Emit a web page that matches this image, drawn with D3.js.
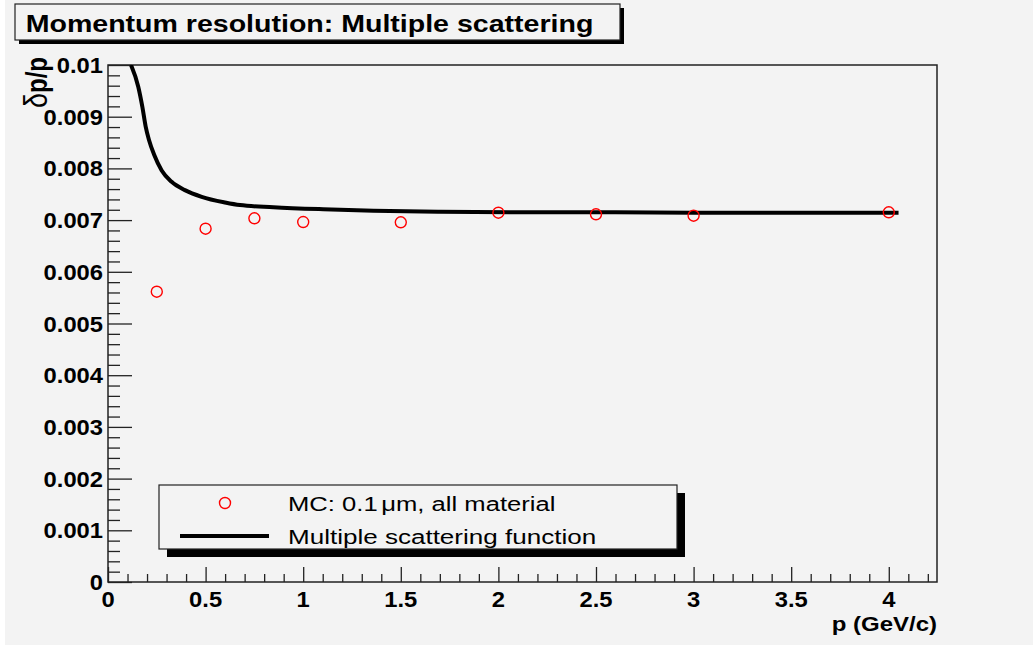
<!DOCTYPE html>
<html>
<head>
<meta charset="utf-8">
<script src="https://cdn.jsdelivr.net/npm/d3@7"></script>
<style>
  html, body { margin: 0; padding: 0; background: #f3f3f3; }
  svg { display: block; }
  text { font-family: "Liberation Sans", Arial, Helvetica, sans-serif; }
</style>
</head>
<body>
<svg id="chart" width="1033" height="645"></svg>
<script>
// ---- data ----
const mcP = [0.25, 0.5, 0.75, 1.0, 1.5, 2.0, 2.5, 3.0, 4.0];
const mcRes = [0.005615, 0.006834, 0.007035, 0.006963, 0.006957, 0.007143, 0.007112, 0.007085, 0.007151];

const fnP = [0.118, 0.155, 0.176, 0.193, 0.210, 0.237, 0.275, 0.326, 0.394, 0.48, 0.60, 0.676, 0.847, 1.103, 1.36, 1.70, 2.11, 2.6, 3.0, 3.5, 4.05];
const fnRes = [0.0100, 0.00958, 0.00919, 0.00881, 0.00855, 0.00826, 0.00796, 0.00774, 0.00758, 0.00745, 0.00734, 0.00729, 0.00725, 0.00721, 0.00718, 0.00716, 0.00715, 0.00715, 0.00714, 0.00714, 0.00714];

const xMajorTicks = [0, 0.5, 1, 1.5, 2, 2.5, 3, 3.5, 4];
const xTickLabels = ["0", "0.5", "1", "1.5", "2", "2.5", "3", "3.5", "4"];
const yMajorTicks = [0, 0.001, 0.002, 0.003, 0.004, 0.005, 0.006, 0.007, 0.008, 0.009, 0.01];
const yTickLabels = ["0", "0.001", "0.002", "0.003", "0.004", "0.005", "0.006", "0.007", "0.008", "0.009", "0.01"];

const titleText = "Momentum resolution: Multiple scattering";
const xTitle = "p (GeV/c)";
const yTitleGreek = "\u03B4";
const yTitleRest = "p/p";
const legendMCParts = ["MC: 0.1", "\u03BCm, all material"];
const legendFn = "Multiple scattering function";

// ---- layout ----
const frame = { left: 108, right: 937, top: 65, bottom: 582 };
const xDomain = [0, 4.247];
const yDomain = [0, 0.01];

const svg = d3.select("#chart");
svg.append("rect").attr("width", 1033).attr("height", 645).attr("fill", "#f3f3f3");
svg.append("rect").attr("width", 5).attr("height", 645).attr("fill", "#ffffff");

const x = d3.scaleLinear().domain(xDomain).range([frame.left, frame.right]);
const y = d3.scaleLinear().domain(yDomain).range([frame.bottom, frame.top]);

function stretchedText(g, str, px, py, size, sx, anchor, weight, rotate) {
  return g.append("text")
    .attr("transform", `translate(${px},${py}) scale(${sx},1)` + (rotate ? ` rotate(${rotate})` : ""))
    .attr("text-anchor", anchor)
    .attr("font-size", size)
    .attr("font-weight", weight)
    .attr("fill", "#000")
    .text(str);
}

// ---- title box ----
const tb = { x0: 15, y0: 4, x1: 620, y1: 40 };
svg.append("rect").attr("x", tb.x0 + 4).attr("y", tb.y0 + 4)
  .attr("width", tb.x1 - tb.x0).attr("height", tb.y1 - tb.y0).attr("fill", "#000");
svg.append("rect").attr("x", tb.x0).attr("y", tb.y0)
  .attr("width", tb.x1 - tb.x0).attr("height", tb.y1 - tb.y0)
  .attr("fill", "#f3f3f3").attr("stroke", "#222").attr("stroke-width", 1.2);
stretchedText(svg, titleText, (tb.x0 + tb.x1) / 2 - 8, 32, 24, 1.19, "middle", "bold");

// ---- frame ----
svg.append("rect").attr("x", frame.left).attr("y", frame.top)
  .attr("width", frame.right - frame.left).attr("height", frame.bottom - frame.top)
  .attr("fill", "none").attr("stroke", "#222").attr("stroke-width", 1.5);

// ---- axes ----
const xAxisMajor = d3.axisTop(x).tickValues(xMajorTicks).tickSize(15).tickFormat("");
const xMinorVals = d3.range(0, 43).map(i => i / 10).filter(v => v <= xDomain[1] && Math.abs(v * 2 - Math.round(v * 2)) > 1e-6);
const xAxisMinor = d3.axisTop(x).tickValues(xMinorVals).tickSize(8).tickFormat("");
const gx1 = svg.append("g").attr("transform", `translate(0,${frame.bottom})`).call(xAxisMajor);
const gx2 = svg.append("g").attr("transform", `translate(0,${frame.bottom})`).call(xAxisMinor);
[gx1, gx2].forEach(g => { g.select(".domain").remove(); g.selectAll("line").attr("stroke", "#222").attr("stroke-width", 1.3); });

const yAxisMajor = d3.axisRight(y).tickValues(yMajorTicks).tickSize(24).tickFormat("");
const yMinorVals = d3.range(0, 51).map(i => i * 0.0002).filter(v => Math.abs(v / 0.001 - Math.round(v / 0.001)) > 1e-6);
const yAxisMinor = d3.axisRight(y).tickValues(yMinorVals).tickSize(12).tickFormat("");
const gy1 = svg.append("g").attr("transform", `translate(${frame.left},0)`).call(yAxisMajor);
const gy2 = svg.append("g").attr("transform", `translate(${frame.left},0)`).call(yAxisMinor);
[gy1, gy2].forEach(g => { g.select(".domain").remove(); g.selectAll("line").attr("stroke", "#222").attr("stroke-width", 1.3); });

// tick labels
xMajorTicks.forEach((v, i) => {
  stretchedText(svg, xTickLabels[i], x(v), 607, 22, 1.08, "middle", "bold");
});
yMajorTicks.forEach((v, i) => {
  stretchedText(svg, yTickLabels[i], frame.left - 5, y(v) + 8, 22, 1.08, "end", "bold");
});

// axis titles
stretchedText(svg, xTitle, frame.right, 631, 20.5, 1.17, "end", "bold");
const yt = svg.append("text")
  .attr("transform", "translate(47,57) scale(1.2,1) rotate(-90)")
  .attr("text-anchor", "end").attr("font-size", 24).attr("font-weight", "bold").attr("fill", "#000");
yt.append("tspan").attr("font-weight", "normal").attr("font-size", 27).text(yTitleGreek);
yt.append("tspan").text(yTitleRest);

// ---- plot contents ----
svg.append("clipPath").attr("id", "plotclip").append("rect")
  .attr("x", frame.left).attr("y", frame.top)
  .attr("width", frame.right - frame.left).attr("height", frame.bottom - frame.top);

const fnData = fnP.map((p, i) => [p, fnRes[i]]);
svg.append("path")
  .datum(fnData)
  .attr("clip-path", "url(#plotclip)")
  .attr("d", d3.line().x(d => x(d[0])).y(d => y(d[1])).curve(d3.curveMonotoneX))
  .attr("fill", "none").attr("stroke", "#000").attr("stroke-width", 4)
  .attr("stroke-linejoin", "round");

svg.append("g").selectAll("circle")
  .data(mcP.map((p, i) => [p, mcRes[i]]))
  .join("circle")
  .attr("cx", d => x(d[0])).attr("cy", d => y(d[1]))
  .attr("r", 5.5).attr("fill", "none").attr("stroke", "#ff0000").attr("stroke-width", 1.4);

// ---- legend ----
const lb = { x0: 159, y0: 485, x1: 677, y1: 549 };
svg.append("rect").attr("x", lb.x0 + 8).attr("y", lb.y0 + 8)
  .attr("width", lb.x1 - lb.x0).attr("height", lb.y1 - lb.y0).attr("fill", "#000");
svg.append("rect").attr("x", lb.x0).attr("y", lb.y0)
  .attr("width", lb.x1 - lb.x0).attr("height", lb.y1 - lb.y0)
  .attr("fill", "#f3f3f3").attr("stroke", "#222").attr("stroke-width", 1.2);

svg.append("circle").attr("cx", 225).attr("cy", 503).attr("r", 5.5)
  .attr("fill", "none").attr("stroke", "#ff0000").attr("stroke-width", 1.4);
svg.append("line").attr("x1", 180).attr("x2", 269).attr("y1", 536).attr("y2", 536)
  .attr("stroke", "#000").attr("stroke-width", 4);
const lt = svg.append("text")
  .attr("transform", "translate(288,511) scale(1.22,1)")
  .attr("font-size", 21).attr("fill", "#000");
lt.append("tspan").text(legendMCParts[0]);
lt.append("tspan").attr("dx", 3).text(legendMCParts[1]);
stretchedText(svg, legendFn, 288, 544, 21, 1.24, "start", "normal");
</script>
</body>
</html>
